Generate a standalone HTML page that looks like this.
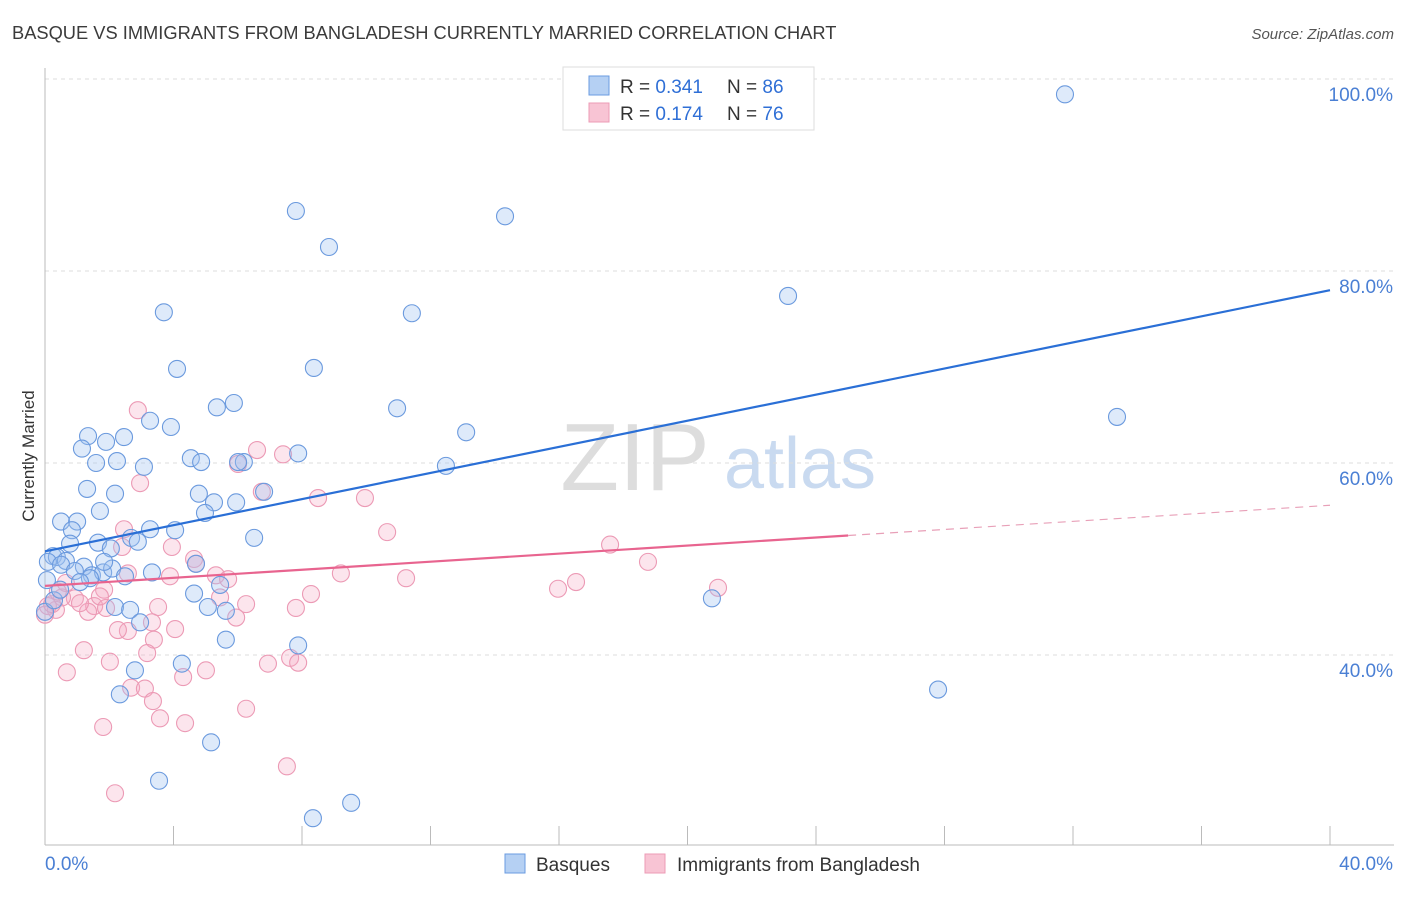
<!DOCTYPE html>
<html><head><meta charset="utf-8"><style>
body{margin:0;background:#fff;font-family:"Liberation Sans",sans-serif;}
svg text{font-family:"Liberation Sans",sans-serif;}
</style></head><body>
<svg id="c" width="1406" height="892" xmlns="http://www.w3.org/2000/svg">
<text x="12" y="39" font-size="18.3" fill="#3b3b3b">BASQUE VS IMMIGRANTS FROM BANGLADESH CURRENTLY MARRIED CORRELATION CHART</text>
<text x="1394" y="39" font-size="15" fill="#555" font-style="italic" text-anchor="end">Source: ZipAtlas.com</text>
<text transform="translate(34,456) rotate(-90)" font-size="17" fill="#333" text-anchor="middle">Currently Married</text>
<g><text x="635" y="490" font-size="96" fill="#ddd" font-family="Liberation Serif" text-anchor="middle">ZIP</text><text x="800" y="488" font-size="72" fill="#c9daf0" text-anchor="middle">atlas</text></g>
<g id="grid"></g><g id="axes"></g><g id="marks"></g><g id="lines"></g>
<g>
<rect x="563" y="67" width="251" height="63" fill="#fff" stroke="#ddd"/>
<rect x="589" y="76" width="20" height="19" fill="#b5d0f3" stroke="#6a9be0"/>
<rect x="589" y="103" width="20" height="19" fill="#f8c4d4" stroke="#ec9bb6"/>
<text x="620" y="93" font-size="19" fill="#333">R = <tspan fill="#2f6fd6">0.341</tspan></text>
<text x="727" y="93" font-size="19" fill="#333">N = <tspan fill="#2f6fd6">86</tspan></text>
<text x="620" y="120" font-size="19" fill="#333">R = <tspan fill="#2f6fd6">0.174</tspan></text>
<text x="727" y="120" font-size="19" fill="#333">N = <tspan fill="#2f6fd6">76</tspan></text>
</g>
<g>
<rect x="505" y="854" width="20" height="19" fill="#b5d0f3" stroke="#6a9be0"/>
<text x="536" y="871" font-size="19" fill="#333">Basques</text>
<rect x="645" y="854" width="20" height="19" fill="#f8c4d4" stroke="#ec9bb6"/>
<text x="677" y="871" font-size="19" fill="#333">Immigrants from Bangladesh</text>
</g>
</svg>
<script>
const blueX=[31.75,7.81,14.32,8.84,23.13,3.70,11.42,4.11,8.37,5.35,5.88,10.96,3.27,3.92,1.34,2.46,1.90,13.11,33.37,1.15,4.54,4.86,6.19,7.88,6.01,12.48,1.59,2.24,3.08,1.31,2.18,4.79,6.82,5.26,5.95,4.98,1.71,0.50,1.00,3.27,4.05,6.51,0.84,0.78,1.65,2.68,2.89,2.05,0.25,0.37,0.65,0.09,0.50,1.21,0.93,1.46,1.81,2.09,2.49,3.33,4.70,5.45,4.64,2.18,2.65,5.07,5.63,2.96,5.63,7.88,4.26,2.80,2.33,5.17,27.80,20.76,3.55,9.53,8.34,0,0.28,0.47,0.06,1.40,1.84,1.09];
const blueY=[98.4,86.25,85.7,82.5,77.4,75.7,75.6,69.8,69.9,65.8,66.25,65.7,64.4,63.75,62.8,62.7,62.2,63.2,64.8,61.5,60.5,60.1,60.1,61.0,60.1,59.7,60.0,60.2,59.6,57.3,56.8,56.8,57.0,55.9,55.9,54.8,55.0,53.9,53.9,53.1,53.0,52.2,53.0,51.6,51.7,52.2,51.8,51.1,50.3,50.2,49.8,49.7,49.4,49.2,48.75,48.3,48.6,49.0,48.2,48.6,49.5,47.3,46.4,45.0,44.7,45.0,44.6,43.4,41.6,41.0,39.1,38.4,35.9,30.9,36.4,45.9,26.9,24.6,23.0,44.5,45.7,46.8,47.8,48.0,49.7,47.6];
const pinkX=[2.89,6.60,7.41,6.01,2.96,6.75,8.50,9.96,3.95,10.65,2.46,2.40,4.64,4.70,17.59,18.77,9.21,11.24,15.97,16.53,20.95,5.32,5.70,3.89,2.58,5.45,6.26,7.81,8.28,3.52,1.84,0.93,1.53,1.90,1.34,0.53,0.34,0.09,0,2.58,3.33,4.05,5.95,2.27,3.39,3.18,1.21,2.02,0.68,4.30,5.01,6.94,7.63,7.88,2.68,3.11,3.36,3.58,4.36,6.26,1.81,7.53,2.18,0.65,0.22,0.40,1.09,1.71];
const pinkY=[65.5,61.35,60.9,59.9,57.9,57.0,56.35,56.35,51.25,52.8,53.1,51.25,50.0,49.5,51.5,49.7,48.5,48.0,46.9,47.6,47.0,48.3,47.9,48.2,48.5,46.0,45.3,44.9,46.35,45.0,46.8,45.9,45.1,44.9,44.5,46.0,44.7,45.1,44.2,42.5,43.4,42.7,43.9,42.6,41.6,40.2,40.5,39.3,38.2,37.7,38.4,39.1,39.7,39.2,36.6,36.5,35.2,33.4,32.9,34.4,32.5,28.4,25.6,47.5,45.3,46.6,45.4,46.1];
const yTicks=[100,80,60,40];
const yTickLabels=["100.0%","80.0%","60.0%","40.0%"];
const blueTrend=[50.8,78.0];
const pinkTrend=[47.2,55.6];
const pinkSolidEnd=25;
const NS="http://www.w3.org/2000/svg";
const X=v=>45+v/40*1285, Y=v=>79+(100-v)*9.6;
function mk(t,a,p){const e=document.createElementNS(NS,t);for(const k in a)e.setAttribute(k,a[k]);p.appendChild(e);return e;}
const grid=document.getElementById('grid'),axes=document.getElementById('axes'),marks=document.getElementById('marks'),lines=document.getElementById('lines');
yTicks.forEach((t,i)=>{
 const g=mk('line',{x1:45,x2:1394,y1:Y(t),y2:Y(t),stroke:'#ddd','stroke-dasharray':'4,4'},grid);
 
 
 const l=mk('text',{x:1393,y:Y(t)+22,'font-size':19,fill:'#4a7fd4','text-anchor':'end'},axes);
 l.textContent=yTickLabels[i];
 
 
});
mk('line',{x1:45,x2:45,y1:68,y2:845,stroke:'#bbb'},axes);
mk('line',{x1:45,x2:1394,y1:845,y2:845,stroke:'#bbb'},axes);
for(let i=0;i<=10;i++){const x=X(i*4);mk('line',{x1:x,x2:x,y1:826,y2:845,stroke:'#bbb'},axes);}
const x0=mk('text',{x:45,y:870,'font-size':19,fill:'#4a7fd4'},axes);x0.textContent='0.0%';


const x1=mk('text',{x:1393,y:870,'font-size':19,fill:'#4a7fd4','text-anchor':'end'},axes);x1.textContent='40.0%';


pinkX.forEach((v,i)=>{const c=mk('circle',{cx:X(v),cy:Y(pinkY[i]),r:8.5,fill:'rgba(244,170,195,0.3)',stroke:'#ec9ab5','stroke-width':1.1},marks);
 
 });
blueX.forEach((v,i)=>{const c=mk('circle',{cx:X(v),cy:Y(blueY[i]),r:8.5,fill:'rgba(160,196,240,0.35)',stroke:'#6b9ade','stroke-width':1.1},marks);
 
 });
const bl=mk('line',{x1:X(0),y1:Y(blueTrend[0]),x2:X(40),y2:Y(blueTrend[1]),stroke:'#2a6fd6','stroke-width':2.2},lines);


const pm=pinkTrend[0]+(pinkTrend[1]-pinkTrend[0])*pinkSolidEnd/40;
const pl=mk('line',{x1:X(0),y1:Y(pinkTrend[0]),x2:X(pinkSolidEnd),y2:Y(pm),stroke:'#e8648f','stroke-width':2.2},lines);


const pd=mk('line',{x1:X(pinkSolidEnd),y1:Y(pm),x2:X(40),y2:Y(pinkTrend[1]),stroke:'#e8a0b8','stroke-width':1.2,'stroke-dasharray':'8,6'},lines);


</script>
</body></html>
